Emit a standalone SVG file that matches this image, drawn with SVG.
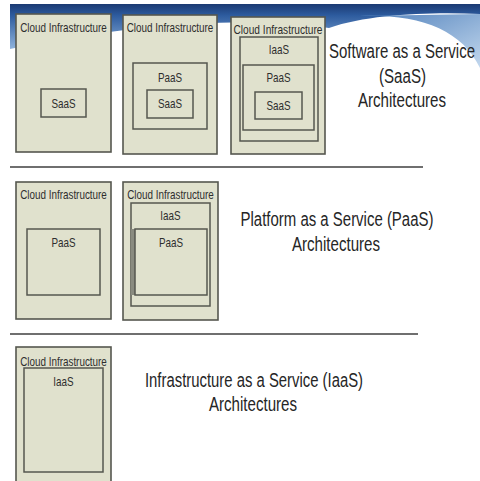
<svg xmlns="http://www.w3.org/2000/svg" width="480" height="481" viewBox="0 0 480 481">
<defs>
<linearGradient id="hdr" x1="0" y1="0" x2="0" y2="1">
<stop offset="0" stop-color="#1b3a72"/>
<stop offset="0.25" stop-color="#2d5b9e"/>
<stop offset="1" stop-color="#8fb3dc"/>
</linearGradient>
<linearGradient id="wedge" x1="0" y1="0" x2="1" y2="1">
<stop offset="0" stop-color="#4f80bb"/>
<stop offset="1" stop-color="#c3d8ee"/>
</linearGradient>
<style>
.box{fill:#e0e1cd;stroke:#55574f;stroke-width:1.6}
.inner{fill:#e0e1cd;stroke:#55574f;stroke-width:1.5}
.lbl{font-family:"Liberation Sans",Arial,sans-serif;font-size:13px;fill:#2e2e2e;text-anchor:middle}
.big{font-family:"Liberation Sans",Arial,sans-serif;font-size:21px;fill:#262626;text-anchor:middle}
.sep{stroke:#6f6f6f;stroke-width:2}
</style>
</defs>
<rect width="480" height="481" fill="#ffffff"/>
<g id="header">
<path d="M10,4 L480,4 L480,14 C430,12 370,14 329,28 C260,18 150,20 10,49 Z" fill="url(#hdr)"/>
<path d="M360,16 C420,14 462,30 480,68 L480,14 Z" fill="url(#wedge)"/>
</g>
<g id="separators">
<line class="sep" x1="10" y1="167" x2="423" y2="167"/>
<line class="sep" x1="10" y1="334" x2="418" y2="334"/>
</g>
<g id="saas-arch-1">
<rect class="box" x="16" y="14" width="95" height="138"/>
<text class="lbl" transform="translate(63.5,32) scale(0.76,1)">Cloud Infrastructure</text>
<rect class="inner" x="41" y="89" width="45" height="28"/>
<text class="lbl" transform="translate(63.5,108) scale(0.76,1)">SaaS</text>
</g>
<g id="saas-arch-2">
<rect class="box" x="123" y="15" width="94" height="139"/>
<text class="lbl" transform="translate(170,32) scale(0.76,1)">Cloud Infrastructure</text>
<rect class="inner" x="133" y="63" width="74" height="66"/>
<text class="lbl" transform="translate(170,82) scale(0.76,1)">PaaS</text>
<rect class="inner" x="147" y="90" width="46" height="28"/>
<text class="lbl" transform="translate(170,108) scale(0.76,1)">SaaS</text>
</g>
<g id="saas-arch-3">
<rect class="box" x="231" y="17" width="94" height="137"/>
<text class="lbl" transform="translate(278,34) scale(0.78,1)">Cloud Infrastructure</text>
<rect class="inner" x="240" y="37" width="78" height="104"/>
<text class="lbl" transform="translate(279,54) scale(0.76,1)">IaaS</text>
<rect class="inner" x="243" y="65" width="71" height="65"/>
<text class="lbl" transform="translate(278.5,82) scale(0.76,1)">PaaS</text>
<rect class="inner" x="255" y="92" width="47" height="27"/>
<text class="lbl" transform="translate(278.5,110) scale(0.76,1)">SaaS</text>
</g>
<g id="saas-title">
<text class="big" transform="translate(402,58) scale(0.715,1)">Software as a Service</text>
<text class="big" transform="translate(402.5,83) scale(0.72,1)">(SaaS)</text>
<text class="big" transform="translate(402,107) scale(0.72,1)">Architectures</text>
</g>
<g id="paas-arch-1">
<rect class="box" x="16" y="182" width="95" height="137"/>
<text class="lbl" transform="translate(63.5,199) scale(0.76,1)">Cloud Infrastructure</text>
<rect class="inner" x="27" y="229" width="73" height="66"/>
<text class="lbl" transform="translate(63.5,247) scale(0.76,1)">PaaS</text>
</g>
<g id="paas-arch-2">
<rect class="box" x="123" y="182" width="95" height="138"/>
<text class="lbl" transform="translate(170.5,199) scale(0.76,1)">Cloud Infrastructure</text>
<rect class="inner" x="131" y="203" width="79" height="103"/>
<text class="lbl" transform="translate(170.5,220) scale(0.76,1)">IaaS</text>
<rect x="131" y="229" width="5" height="66" fill="#8a8b80"/>
<rect class="inner" x="135" y="229" width="72" height="66"/>
<text class="lbl" transform="translate(171,247) scale(0.76,1)">PaaS</text>
</g>
<g id="paas-title">
<text class="big" transform="translate(337,226) scale(0.713,1)">Platform as a Service (PaaS)</text>
<text class="big" transform="translate(336,251) scale(0.72,1)">Architectures</text>
</g>
<g id="iaas-arch-1">
<rect class="box" x="16" y="347" width="95" height="136"/>
<text class="lbl" transform="translate(63.5,366) scale(0.76,1)">Cloud Infrastructure</text>
<rect class="inner" x="24" y="368" width="79" height="104"/>
<text class="lbl" transform="translate(63.5,386) scale(0.76,1)">IaaS</text>
</g>
<g id="iaas-title">
<text class="big" transform="translate(254,387) scale(0.708,1)">Infrastructure as a Service (IaaS)</text>
<text class="big" transform="translate(253,411) scale(0.72,1)">Architectures</text>
</g>
</svg>
